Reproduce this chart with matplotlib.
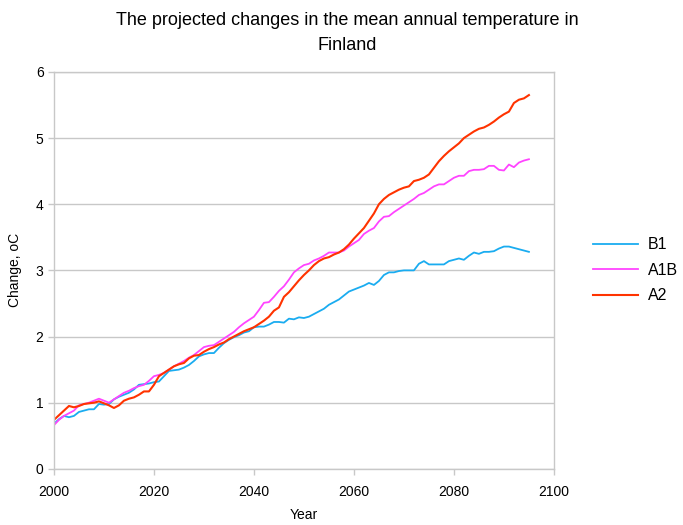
import numpy as np
import matplotlib
matplotlib.use('Agg')
import matplotlib.pyplot as plt

plt.rcParams['font.family'] = ['Liberation Sans', 'DejaVu Sans']

years = np.arange(2000, 2096)

b1 = [0.68, 0.75, 0.80, 0.78, 0.80, 0.86, 0.88, 0.90, 0.90, 0.98,
      0.97, 0.98, 1.05, 1.09, 1.12, 1.15, 1.20, 1.27, 1.28, 1.29,
      1.31, 1.32, 1.40, 1.48, 1.49, 1.50, 1.53, 1.57, 1.63, 1.70,
      1.73, 1.75, 1.75, 1.83, 1.90, 1.95, 1.99, 2.02, 2.06, 2.08,
      2.14, 2.15, 2.15, 2.18, 2.22, 2.22, 2.21, 2.27, 2.26, 2.29,
      2.28, 2.30, 2.34, 2.38, 2.42, 2.48, 2.52, 2.56, 2.62, 2.68,
      2.71, 2.74, 2.77, 2.81, 2.78, 2.84, 2.93, 2.97, 2.97, 2.99,
      3.00, 3.00, 3.00, 3.10, 3.14, 3.09, 3.09, 3.09, 3.09, 3.14,
      3.16, 3.18, 3.16, 3.22, 3.27, 3.25, 3.28, 3.28, 3.29, 3.33,
      3.36, 3.36, 3.34, 3.32, 3.30, 3.28]

a1b = [0.66, 0.74, 0.80, 0.84, 0.88, 0.96, 0.98, 1.00, 1.03, 1.06,
       1.03, 1.00, 1.05, 1.10, 1.15, 1.18, 1.22, 1.25, 1.27, 1.33,
       1.40, 1.42, 1.45, 1.50, 1.55, 1.59, 1.63, 1.68, 1.72, 1.78,
       1.84, 1.86, 1.87, 1.92, 1.97, 2.02, 2.07, 2.14, 2.20, 2.25,
       2.30, 2.40, 2.51, 2.52, 2.60, 2.69, 2.76, 2.86, 2.97, 3.03,
       3.08, 3.10, 3.15, 3.18, 3.22, 3.27, 3.27, 3.27, 3.30, 3.36,
       3.41, 3.46, 3.55, 3.60, 3.64, 3.74, 3.81, 3.82, 3.88, 3.93,
       3.98, 4.03, 4.08, 4.14, 4.17, 4.22, 4.27, 4.30, 4.30, 4.35,
       4.40, 4.43, 4.43, 4.50, 4.52, 4.52, 4.53, 4.58, 4.58, 4.52,
       4.51, 4.60, 4.56, 4.63, 4.66, 4.68]

a2 = [0.74, 0.81, 0.88, 0.95, 0.93, 0.95, 0.98, 0.99, 1.00, 1.02,
      0.99, 0.96, 0.92, 0.96, 1.03, 1.06, 1.08, 1.12, 1.17, 1.17,
      1.27, 1.40, 1.45, 1.50, 1.55, 1.58, 1.60, 1.67, 1.71, 1.72,
      1.77, 1.81, 1.84, 1.88, 1.91, 1.96, 2.00, 2.04, 2.08, 2.11,
      2.14, 2.19, 2.24, 2.30, 2.39, 2.44, 2.60, 2.67, 2.76, 2.85,
      2.93, 3.00, 3.08, 3.14, 3.18, 3.20, 3.24, 3.27, 3.32, 3.39,
      3.48, 3.56, 3.64, 3.75, 3.86, 4.00, 4.08, 4.14, 4.18, 4.22,
      4.25, 4.27, 4.35, 4.37, 4.40, 4.45, 4.55, 4.65, 4.73, 4.80,
      4.86, 4.92, 5.00, 5.05, 5.10, 5.14, 5.16, 5.20, 5.25, 5.31,
      5.36, 5.40, 5.53, 5.58, 5.60, 5.65]

x_ticks = [2000, 2020, 2040, 2060, 2080, 2100]
y_ticks = [0, 1, 2, 3, 4, 5, 6]

fig = plt.figure(figsize=(6.83, 5.25), dpi=100)
ax = fig.add_axes([0.079, 0.107, 0.732, 0.756])

GRID = '#c8c8c8'
ax.plot(years, b1, color='#1aacf0', lw=1.3, label='B1')
ax.plot(years, a1b, color='#ff44ff', lw=1.3, label='A1B')
ax.plot(years, a2, color='#ff3300', lw=1.5, label='A2')

ax.set_xlim(2000, 2100)
ax.set_ylim(0, 6)
ax.set_xticks(x_ticks)
ax.set_yticks(y_ticks)
ax.yaxis.grid(True, color=GRID, lw=1)
ax.set_axisbelow(True)
for s in ax.spines.values():
    s.set_color(GRID)
    s.set_linewidth(1)
ax.tick_params(colors=GRID, labelcolor='black', labelsize=10, length=4, width=1)
ax.tick_params(axis='x', pad=8)

ax.set_xlabel('Year', fontsize=10, labelpad=6)
ax.set_ylabel('Change, oC', fontsize=10, labelpad=10)
fig.suptitle('The projected changes in the mean annual temperature in\nFinland',
             fontsize=13, y=0.977, x=0.508, va='top', linespacing=1.6)

leg = ax.legend(loc='center left', bbox_to_anchor=(1.05, 0.5), frameon=False,
                fontsize=11.5, handlelength=2.8, handletextpad=0.6, labelspacing=0.65)

fig.savefig('out.png', dpi=100, facecolor='white')
